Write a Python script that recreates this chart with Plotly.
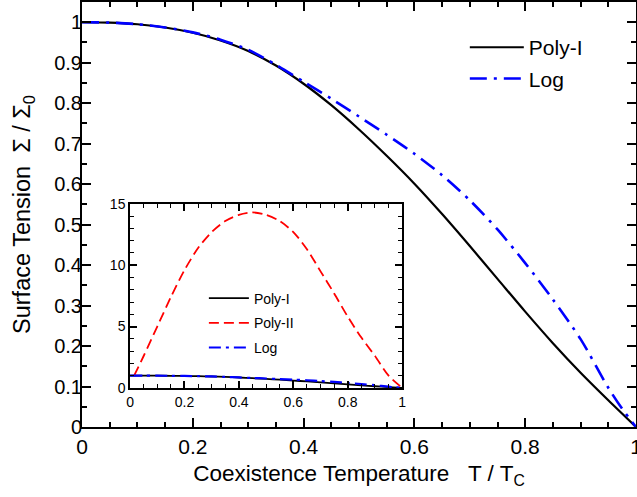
import plotly.graph_objects as go

# ---- data ----
t_main = [0.0, 0.05, 0.1, 0.15, 0.2, 0.25, 0.3, 0.35, 0.4, 0.45, 0.5, 0.55, 0.6, 0.65,
          0.7, 0.75, 0.8, 0.85, 0.9, 0.95, 1.0]
poly1 = [1.000, 0.999, 0.995, 0.987, 0.974, 0.955, 0.929, 0.893, 0.848, 0.795, 0.735,
         0.670, 0.601, 0.526, 0.447, 0.366, 0.285, 0.207, 0.134, 0.066, 0.0]

t_log = [0.0, 0.05, 0.1, 0.15, 0.2, 0.25, 0.3, 0.35, 0.4, 0.45, 0.5, 0.55, 0.6, 0.65,
         0.7, 0.75, 0.8, 0.85, 0.9, 0.95, 0.975, 1.0]
logv = [1.000, 0.999, 0.995, 0.987, 0.975, 0.957, 0.932, 0.895, 0.853, 0.811, 0.767,
        0.722, 0.675, 0.622, 0.560, 0.488, 0.405, 0.315, 0.217, 0.097, 0.045, 0.0]

t_inset = [0.015, 0.05, 0.1, 0.15, 0.2, 0.25, 0.3, 0.35, 0.4, 0.45, 0.5, 0.55, 0.6,
           0.65, 0.7, 0.75, 0.8, 0.85, 0.9, 0.95, 1.0]
poly2 = [1.0, 2.6, 5.0, 7.4, 9.6, 11.4, 12.7, 13.6, 14.1, 14.3, 14.1, 13.6, 12.7,
         11.3, 9.5, 7.7, 5.8, 4.1, 2.6, 1.0, 0.0]

x_ticks = [0, 0.2, 0.4, 0.6, 0.8, 1]
x_ticklabels = ["0", "0.2", "0.4", "0.6", "0.8", "1"]
y_ticks = [0, 0.1, 0.2, 0.3, 0.4, 0.5, 0.6, 0.7, 0.8, 0.9, 1]
y_ticklabels = ["0", "0.1", "0.2", "0.3", "0.4", "0.5", "0.6", "0.7", "0.8", "0.9", "1"]
yi_ticks = [0, 5, 10, 15]
yi_ticklabels = ["0", "5", "10", "15"]

FONT = "Liberation Sans, Arial, Helvetica, sans-serif"
BLUE = "#0000ff"
RED = "#ff0000"

fig = go.Figure()

# main traces
fig.add_trace(go.Scatter(x=t_main, y=poly1, mode="lines", name="Poly-I",
                         line=dict(color="black", width=2.2, shape="spline", smoothing=0.8),
                         legend="legend", legendgroup="a", xaxis="x", yaxis="y"))
fig.add_trace(go.Scatter(x=t_log, y=logv, mode="lines", name="Log",
                         line=dict(color=BLUE, width=2.6, dash="17px,7px,3px,7px",
                                   shape="spline", smoothing=0.8),
                         legend="legend", legendgroup="b", xaxis="x", yaxis="y"))

# inset traces
fig.add_trace(go.Scatter(x=t_main, y=poly1, mode="lines", name="Poly-I",
                         line=dict(color="black", width=1.8, shape="spline", smoothing=0.8),
                         legend="legend2", legendgroup="c", xaxis="x2", yaxis="y2"))
fig.add_trace(go.Scatter(x=t_inset, y=poly2, mode="lines", name="Poly-II",
                         line=dict(color=RED, width=1.8, dash="10px,5px",
                                   shape="spline", smoothing=0.8),
                         legend="legend2", legendgroup="d", xaxis="x2", yaxis="y2"))
fig.add_trace(go.Scatter(x=t_log, y=logv, mode="lines", name="Log",
                         line=dict(color=BLUE, width=2.2, dash="12px,5px,3px,5px",
                                   shape="spline", smoothing=0.8),
                         legend="legend2", legendgroup="e", xaxis="x2", yaxis="y2"))

axis_common = dict(showgrid=False, zeroline=False, showline=True, linecolor="black",
                   ticks="inside", mirror="allticks", tickcolor="black", automargin=False)

fig.update_layout(
    width=637, height=497,
    margin=dict(l=82, r=1, t=2, b=70, autoexpand=False),
    paper_bgcolor="white", plot_bgcolor="white",
    font=dict(family=FONT, color="black"),
    xaxis=dict(**axis_common, domain=[0, 1], range=[0, 1], linewidth=2,
               tickvals=x_ticks, ticktext=x_ticklabels, ticklen=9, tickwidth=2,
               tickfont=dict(size=21), ticklabeloverflow="allow",
               minor=dict(dtick=0.05, ticks="inside", ticklen=5, tickwidth=1.5,
                          tickcolor="black"),
               title=dict(text="Coexistence Temperature\u00a0\u00a0\u00a0T / T<sub>C</sub>",
                          font=dict(size=22.5), standoff=8)),
    yaxis=dict(**axis_common, domain=[0, 1], range=[0, 1.05], linewidth=2,
               tickvals=y_ticks, ticktext=y_ticklabels, ticklen=9, tickwidth=2,
               tickfont=dict(size=20), ticklabelstandoff=-6,
               minor=dict(dtick=0.05, ticks="inside", ticklen=5, tickwidth=1.5,
                          tickcolor="black"),
               title=dict(text="Surface Tension\u00a0\u00a0\u03a3 / \u03a3<sub>0</sub>",
                          font=dict(size=23.5), standoff=17)),
    xaxis2=dict(**axis_common, domain=[0.0867, 0.578], range=[0, 1], anchor="y2",
                linewidth=1.6, tickvals=x_ticks, ticktext=x_ticklabels, ticklen=7,
                tickwidth=1.5, tickfont=dict(size=14),
                minor=dict(dtick=0.05, ticks="inside", ticklen=4, tickwidth=1.2,
                           tickcolor="black")),
    yaxis2=dict(**axis_common, domain=[0.092, 0.525], range=[0, 15], anchor="x2",
                linewidth=1.6, tickvals=yi_ticks, ticktext=yi_ticklabels, ticklen=7,
                tickwidth=1.5, tickfont=dict(size=14),
                minor=dict(dtick=1, ticks="inside", ticklen=4, tickwidth=1.2,
                           tickcolor="black")),
    legend=dict(x=0.691, y=0.941, xanchor="left", yanchor="top",
                bgcolor="rgba(0,0,0,0)", font=dict(size=21), tracegroupgap=1,
                itemwidth=54),
    legend2=dict(x=0.22, y=0.34, xanchor="left", yanchor="top",
                 bgcolor="rgba(0,0,0,0)", font=dict(size=14), tracegroupgap=3.5,
                 itemwidth=40),
    showlegend=True,
)

fig.write_html("out.html", config={"displayModeBar": False},
               post_script="document.body.style.margin='0';document.body.style.overflow='hidden';")
